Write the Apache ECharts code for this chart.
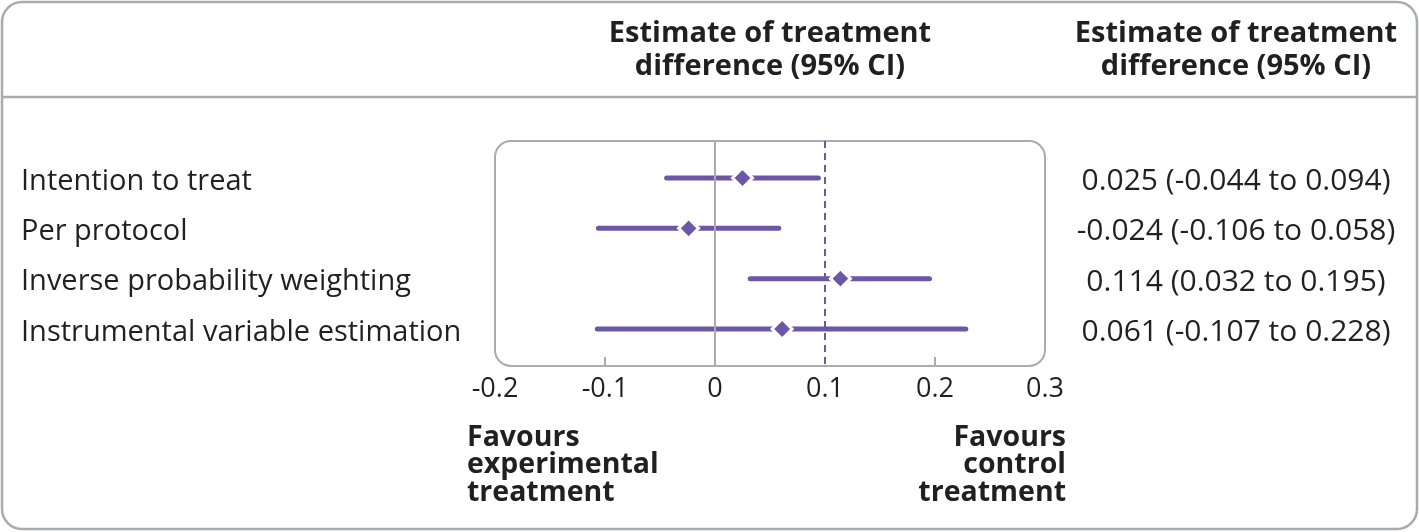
<!DOCTYPE html>
<html><head><meta charset="utf-8">
<script src="https://cdn.jsdelivr.net/npm/echarts@6/dist/echarts.min.js"></script>
<style>html,body{margin:0;padding:0;background:#fff}#c{width:1419px;height:532px}</style>
</head><body><div id="c"></div>
<script>
const methods = ['Intention to treat','Per protocol','Inverse probability weighting','Instrumental variable estimation'];
const estimates = [0.025, -0.024, 0.114, 0.061];
const lower = [-0.044, -0.106, 0.032, -0.107];
const upper = [0.094, 0.058, 0.195, 0.228];
const ciText = ['0.025 (-0.044 to 0.094)','-0.024 (-0.106 to 0.058)','0.114 (0.032 to 0.195)','0.061 (-0.107 to 0.228)'];
const xTicks = [-0.2, -0.1, 0, 0.1, 0.2, 0.3];
const tickMarks = [-0.1, 0.2];
const nullLine = 0;
const marginLine = 0.1;

const PURPLE = '#6b57a6', GREY = '#a9abae', TXT = '#231f20';
const FONT = 'Open Sans';
const G = {left:495, top:141, right:1045, bottom:366};
const Y_MIN = -0.735, Y_MAX = 3.735;
const LABEL_SHIFT = 0.07;

const chart = echarts.init(document.getElementById('c'), null, {renderer:'canvas'});
const idx = methods.map((_, i) => i);
const labelPos = idx.map(i => i + LABEL_SHIFT);
chart.setOption({
  animation:false,
  grid:{left:G.left, top:G.top, width:G.right-G.left, height:G.bottom-G.top, containLabel:false},
  xAxis:{type:'value', min:xTicks[0], max:xTicks[xTicks.length-1], interval:0.1, position:'bottom',
    axisLine:{show:false, onZero:false}, splitLine:{show:false}, axisTick:{show:false},
    axisLabel:{customValues:xTicks, margin:10, fontFamily:FONT, fontSize:27, color:TXT,
      formatter:v => String(Math.round(v*10)/10)}},
  yAxis:[
    {type:'value', inverse:true, min:Y_MIN, max:Y_MAX, position:'left',
     axisLine:{show:false, onZero:false}, axisTick:{show:false}, splitLine:{show:false},
     axisLabel:{customValues:labelPos, align:'left', margin:G.left-21, fontFamily:FONT, fontSize:29, color:TXT,
       formatter:v => methods[Math.round(v)]}},
    {type:'value', inverse:true, min:Y_MIN, max:Y_MAX, position:'right',
     axisLine:{show:false, onZero:false}, axisTick:{show:false}, splitLine:{show:false},
     axisLabel:{customValues:labelPos, align:'center', margin:1236-G.right, fontFamily:FONT, fontSize:30, color:TXT,
       formatter:v => ciText[Math.round(v)]}}
  ],
  series:[
    {type:'custom', z:3,
     data: idx.map(i => [lower[i], i, upper[i]]),
     encode:{x:[0,2], y:1},
     renderItem:(params, api) => {
       const a = api.coord([api.value(0), api.value(1)]);
       const b = api.coord([api.value(2), api.value(1)]);
       return {type:'line', shape:{x1:a[0], y1:a[1], x2:b[0], y2:b[1]},
         style:{stroke:PURPLE, lineWidth:5, lineCap:'round'}};
     },
     markLine:{silent:true, symbol:'none', label:{show:false},
       data:[
         {xAxis:nullLine, lineStyle:{color:GREY, width:2, type:'solid'}},
         {xAxis:marginLine, lineStyle:{color:PURPLE, width:2, type:[7,5]}}
       ]}
    },
    {type:'scatter', z:2, silent:true, clip:false, symbol:'rect', symbolSize:[2,9], symbolOffset:[0,-4.5],
     data: tickMarks.map(v => [v, Y_MAX]),
     itemStyle:{color:GREY, opacity:1}},
    {type:'scatter', z:4, symbol:'diamond', symbolSize:20,
     data: idx.map(i => [estimates[i], i]),
     itemStyle:{color:PURPLE, borderColor:'#fff', borderWidth:3, opacity:1}}
  ],
  graphic:[
    {type:'rect', z:-1, silent:true, shape:{x:2, y:2, width:1415, height:527, r:20},
     style:{fill:'none', stroke:GREY, lineWidth:2.5}},
    {type:'line', z:-1, silent:true, shape:{x1:2, y1:97, x2:1417, y2:97},
     style:{stroke:GREY, lineWidth:2.5}},
    {type:'rect', z:-1, silent:true, shape:{x:G.left, y:G.top, width:G.right-G.left, height:G.bottom-G.top, r:16},
     style:{fill:'none', stroke:GREY, lineWidth:2}},
    {type:'text', silent:true, x:770, y:50,
     style:{text:'Estimate of treatment\ndifference (95% CI)', align:'center', verticalAlign:'middle',
       font:'bold 29px "'+FONT+'"', lineHeight:33, fill:TXT}},
    {type:'text', silent:true, x:1236, y:50,
     style:{text:'Estimate of treatment\ndifference (95% CI)', align:'center', verticalAlign:'middle',
       font:'bold 29px "'+FONT+'"', lineHeight:33, fill:TXT}},
    {type:'text', silent:true, x:467, y:465,
     style:{text:'Favours\nexperimental\ntreatment', align:'left', verticalAlign:'middle',
       font:'bold 28.5px "'+FONT+'"', lineHeight:27.5, fill:TXT}},
    {type:'text', silent:true, x:1066, y:465,
     style:{text:'Favours\ncontrol\ntreatment', align:'right', verticalAlign:'middle',
       font:'bold 28.5px "'+FONT+'"', lineHeight:27.5, fill:TXT}}
  ]
});
</script></body></html>
